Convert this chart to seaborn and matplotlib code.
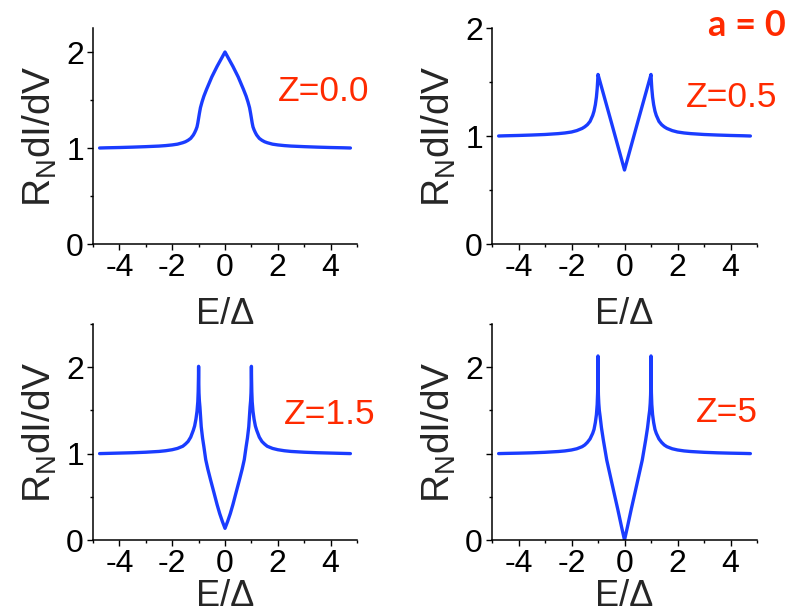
import numpy as np
import pandas as pd
import matplotlib
matplotlib.use("Agg")
import matplotlib.pyplot as plt
import seaborn as sns

# ---- data ----
z_labels = ["Z=0.0", "Z=0.5", "Z=1.5", "Z=5"]

e_z00 = [-4.75, -4.5, -4.0, -3.5, -3.0, -2.5, -2.25, -2.0, -1.8, -1.6, -1.5, -1.4, -1.3, -1.2,
         -1.15, -1.1, -1.06, -1.03, -1.0, -0.97, -0.93, -0.87, -0.8, -0.7, -0.6, -0.5, -0.4,
         -0.3, -0.2, -0.1, 0.0,
         0.1, 0.2, 0.3, 0.4, 0.5, 0.6, 0.7, 0.8, 0.87, 0.93, 0.97, 1.0, 1.03, 1.06, 1.1,
         1.15, 1.2, 1.3, 1.4, 1.5, 1.6, 1.8, 2.0, 2.25, 2.5, 3.0, 3.5, 4.0, 4.5, 4.75]
g_z00 = [1.000, 1.002, 1.005, 1.009, 1.014, 1.020, 1.025, 1.032, 1.040, 1.055, 1.065, 1.080,
         1.100, 1.135, 1.160, 1.190, 1.220, 1.260, 1.310, 1.360, 1.420, 1.480, 1.540, 1.610,
         1.675, 1.740, 1.795, 1.850, 1.900, 1.950, 2.000,
         1.950, 1.900, 1.850, 1.795, 1.740, 1.675, 1.610, 1.540, 1.480, 1.420, 1.360, 1.310,
         1.260, 1.220, 1.190, 1.160, 1.135, 1.100, 1.080, 1.065, 1.055, 1.040, 1.032, 1.025,
         1.020, 1.014, 1.009, 1.005, 1.002, 1.000]

e_z05 = [-4.75, -4.5, -4.0, -3.5, -3.0, -2.5, -2.25, -2.0, -1.8, -1.6, -1.5, -1.4, -1.3, -1.2,
         -1.15, -1.1, -1.06, -1.03, -1.01, -1.0, -0.5, 0.0,
         0.5, 1.0, 1.01, 1.03, 1.06, 1.1, 1.15, 1.2, 1.3, 1.4, 1.5, 1.6, 1.8, 2.0, 2.25, 2.5,
         3.0, 3.5, 4.0, 4.5, 4.75]
g_z05 = [1.000, 1.002, 1.005, 1.009, 1.014, 1.022, 1.028, 1.037, 1.050, 1.070, 1.085, 1.105,
         1.135, 1.190, 1.230, 1.290, 1.360, 1.440, 1.520, 1.570, 1.130, 0.685,
         1.130, 1.570, 1.520, 1.440, 1.360, 1.290, 1.230, 1.190, 1.135, 1.105, 1.085, 1.070,
         1.050, 1.037, 1.028, 1.022, 1.014, 1.009, 1.005, 1.002, 1.000]

e_z15 = [-4.75, -4.5, -4.0, -3.5, -3.0, -2.5, -2.25, -2.0, -1.8, -1.6, -1.5, -1.4, -1.3, -1.2,
         -1.15, -1.1, -1.06, -1.03, -1.015, -1.005, -1.0,
         -0.995, -0.985, -0.97, -0.95, -0.9, -0.85, -0.8, -0.73, -0.65, -0.55, -0.42, -0.3,
         -0.2, -0.1, 0.0,
         0.1, 0.2, 0.3, 0.42, 0.55, 0.65, 0.73, 0.8, 0.85, 0.9, 0.95, 0.97, 0.985, 0.995,
         1.0, 1.005, 1.015, 1.03, 1.06, 1.1, 1.15, 1.2, 1.3, 1.4, 1.5, 1.6, 1.8, 2.0, 2.25,
         2.5, 3.0, 3.5, 4.0, 4.5, 4.75]
g_z15 = [1.000, 1.002, 1.006, 1.010, 1.016, 1.025, 1.033, 1.045, 1.060, 1.085, 1.110, 1.140,
         1.190, 1.270, 1.320, 1.400, 1.490, 1.600, 1.720, 1.880, 2.010,
         1.850, 1.700, 1.610, 1.540, 1.310, 1.180, 1.080, 0.930, 0.820, 0.700, 0.550, 0.410,
         0.305, 0.215, 0.135,
         0.215, 0.305, 0.410, 0.550, 0.700, 0.820, 0.930, 1.080, 1.180, 1.310, 1.540, 1.610,
         1.700, 1.850,
         2.010, 1.880, 1.720, 1.600, 1.490, 1.400, 1.320, 1.270, 1.190, 1.140, 1.110, 1.085,
         1.060, 1.045, 1.033, 1.025, 1.016, 1.010, 1.006, 1.002, 1.000]

e_z5 = [-4.75, -4.5, -4.0, -3.5, -3.0, -2.5, -2.25, -2.0, -1.8, -1.6, -1.5, -1.4, -1.3, -1.2,
        -1.15, -1.1, -1.06, -1.03, -1.015, -1.005, -1.0,
        -0.995, -0.985, -0.97, -0.95, -0.92, -0.87, -0.8, -0.67, -0.55, -0.39, -0.25, -0.11,
        0.0,
        0.11, 0.25, 0.39, 0.55, 0.67, 0.8, 0.87, 0.92, 0.95, 0.97, 0.985, 0.995,
        1.0, 1.005, 1.015, 1.03, 1.06, 1.1, 1.15, 1.2, 1.3, 1.4, 1.5, 1.6, 1.8, 2.0, 2.25,
        2.5, 3.0, 3.5, 4.0, 4.5, 4.75]
g_z5 = [1.000, 1.002, 1.005, 1.009, 1.015, 1.024, 1.031, 1.042, 1.056, 1.080, 1.100, 1.130,
        1.170, 1.235, 1.280, 1.360, 1.450, 1.570, 1.700, 1.900, 2.130,
        1.850, 1.680, 1.580, 1.500, 1.430, 1.300, 1.160, 0.925, 0.760, 0.540, 0.350, 0.150,
        0.000,
        0.150, 0.350, 0.540, 0.760, 0.925, 1.160, 1.300, 1.430, 1.500, 1.580, 1.680, 1.850,
        2.130, 1.900, 1.700, 1.570, 1.450, 1.360, 1.280, 1.235, 1.170, 1.130, 1.100, 1.080,
        1.056, 1.042, 1.031, 1.024, 1.015, 1.009, 1.005, 1.002, 1.000]

x_ticks = [-4, -2, 0, 2, 4]
y_ticks = [0, 1, 2]
y_ticklabels = [["0", "1", "2"], ["0", "1", "2"], ["0", "1", "2"], ["0", "", "2"]]
y_limits = [2.25, 2.0, 2.5, 2.5]
label_pos = [(2.0, 1.59), (2.3, 1.36), (2.22, 1.45), (2.68, 1.48)]

# ---- style ----
sns.set_style("ticks")
plt.rcParams["font.family"] = ["Liberation Sans", "DejaVu Sans"]
plt.rcParams["mathtext.fontset"] = "custom"
plt.rcParams["mathtext.rm"] = "Liberation Sans"

BLUE = "#1a3cff"
RED = "#ff2a00"

fig = plt.figure(figsize=(7.93, 6.15), dpi=100)
W, H = 793.0, 615.0
boxes = [(93, 28, 357, 244), (492, 28, 757, 244), (93, 324, 357, 540), (492, 324, 757, 540)]
xlabel_pads = [10, 10, 0, 0]
series = [(e_z00, g_z00), (e_z05, g_z05), (e_z15, g_z15), (e_z5, g_z5)]

for i, (l, t, r, b) in enumerate(boxes):
    ax = fig.add_axes([l / W, 1 - b / H, (r - l) / W, (b - t) / H])
    df = pd.DataFrame({"E": series[i][0], "G": series[i][1]})
    sns.lineplot(data=df, x="E", y="G", ax=ax, color=BLUE, linewidth=2.4,
                 estimator=None, sort=False)
    ax.set_xlim(-5, 5)
    ax.set_ylim(0, y_limits[i])
    ax.set_xticks(x_ticks)
    ax.set_xticklabels([str(v) for v in x_ticks])
    ax.set_xticks([-5, -3, -1, 1, 3, 5], minor=True)
    ax.set_yticks(y_ticks)
    ax.set_yticklabels(y_ticklabels[i])
    ax.set_yticks([0.5, 1.5] + ([2.5] if y_limits[i] >= 2.5 else []), minor=True)
    ax.tick_params(which="major", direction="out", length=4.5, width=1.0,
                   labelsize=23, pad=2, color="black", labelcolor="black")
    ax.tick_params(which="minor", direction="out", length=2.5, width=1.0, color="black")
    sns.despine(ax=ax)
    for s in ["left", "bottom"]:
        ax.spines[s].set_linewidth(1.1)
        ax.spines[s].set_color("black")
    ax.set_xlabel("E/\u0394", fontsize=26, labelpad=xlabel_pads[i])
    ax.set_ylabel(r"R$_\mathregular{N}$dI/dV", fontsize=28, labelpad=5)
    ax.text(label_pos[i][0], label_pos[i][1], z_labels[i], color=RED, fontsize=25.5,
            ha="left", va="center", clip_on=False)
    ax.patch.set_alpha(0)

fig.text(708 / W, 1 - 25 / H, "a = 0", color=RED, fontsize=26, fontweight="bold",
         family=["Lato", "DejaVu Sans"], ha="left", va="center")

fig.savefig("out.png", dpi=100)
